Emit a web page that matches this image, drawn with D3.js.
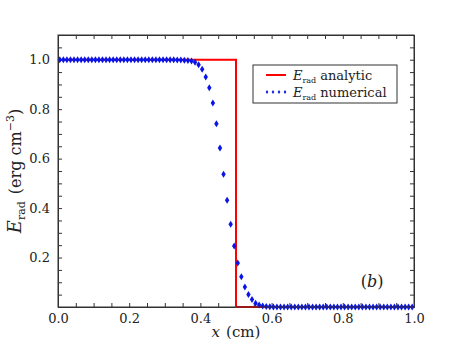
<!DOCTYPE html>
<html>
<head>
<meta charset="utf-8">
<script src="https://cdn.jsdelivr.net/npm/d3@7"></script>
<style>
  body { margin: 0; background: #fff; }
  text { font-family: "DejaVu Serif", "Liberation Serif", serif; fill: #222; }
</style>
</head>
<body>
<div id="canvas"></div>
<script>
// Radiation energy density vs x, analytic step and numerical profile

const width = 460, height = 345;
const margin = { left: 58, right: 46, top: 35, bottom: 38 };

// analytic step (x in cm, E_rad)
const analyticX = [0.0, 0.5, 0.5, 1.0];
const analyticE = [1.0, 1.0, 0.0, 0.0];

// numerical: one value per cell, cell centers 0.005 ... 0.995
const cellX = d3.range(100).map(i => (i + 0.5) / 100);
const numericalE = [
  1.0, 1.0, 1.0, 1.0, 1.0, 1.0, 1.0, 1.0, 1.0, 1.0,
  1.0, 1.0, 1.0, 1.0, 1.0, 1.0, 1.0, 1.0, 1.0, 1.0,
  1.0, 1.0, 1.0, 1.0, 1.0, 1.0, 1.0, 1.0, 1.0, 1.0,
  1.0, 1.0, 1.0, 0.999, 0.999, 0.998, 0.997, 0.995, 0.99, 0.98,
  0.961, 0.93, 0.887, 0.825, 0.741, 0.643, 0.537, 0.432, 0.335, 0.247,
  0.178, 0.122, 0.081, 0.051, 0.030, 0.015, 0.008, 0.004, 0.002, 0.001,
  0.0, 0.0, 0.0, 0.0, 0.0, 0.0, 0.0, 0.0, 0.0, 0.0,
  0.0, 0.0, 0.0, 0.0, 0.0, 0.0, 0.0, 0.0, 0.0, 0.0,
  0.0, 0.0, 0.0, 0.0, 0.0, 0.0, 0.0, 0.0, 0.0, 0.0,
  0.0, 0.0, 0.0, 0.0, 0.0, 0.0, 0.0, 0.0, 0.0, 0.0
];

const xLabels = [0.0, 0.2, 0.4, 0.6, 0.8, 1.0];
const yLabels = [0.2, 0.4, 0.6, 0.8, 1.0];
const minorStep = 0.05;

const svg = d3.select("#canvas").append("svg")
  .attr("width", width).attr("height", height);

const x = d3.scaleLinear().domain([0, 1]).range([margin.left, width - margin.right]);
const y = d3.scaleLinear().domain([0, 1.1]).range([height - margin.bottom, margin.top]);

const xTicks = d3.range(0, 1.0001, minorStep);
const yTicks = d3.range(0, 1.1001, minorStep);
const tickLen = 4;

function fmt(d) { return d3.format(".1f")(d); }
function isLabel(list, d) { return list.some(v => Math.abs(v - d) < 1e-6); }

// bottom axis (ticks inward)
svg.append("g")
  .attr("transform", `translate(0,${y(0)})`)
  .call(d3.axisBottom(x).tickValues(xTicks).tickSize(-tickLen).tickPadding(7)
    .tickFormat(d => isLabel(xLabels, d) ? fmt(d) : ""));
// top axis
svg.append("g")
  .attr("transform", `translate(0,${y(1.1)})`)
  .call(d3.axisTop(x).tickValues(xTicks).tickSize(-tickLen).tickFormat(""));
// left axis
svg.append("g")
  .attr("transform", `translate(${x(0)},0)`)
  .call(d3.axisLeft(y).tickValues(yTicks).tickSize(-tickLen).tickPadding(8)
    .tickFormat(d => isLabel(yLabels, d) ? fmt(d) : ""));
// right axis
svg.append("g")
  .attr("transform", `translate(${x(1)},0)`)
  .call(d3.axisRight(y).tickValues(yTicks).tickSize(-tickLen).tickFormat(""));

svg.selectAll(".domain").attr("stroke", "#333");
svg.selectAll(".tick line").attr("stroke", "#333");
svg.selectAll(".tick text")
  .style("font-family", '"DejaVu Serif", serif')
  .style("font-size", "13px").attr("fill", "#222");

// analytic line
const line = d3.line().x(d => x(d[0])).y(d => y(d[1]));
svg.append("path")
  .datum(analyticX.map((v, i) => [v, analyticE[i]]))
  .attr("d", line)
  .attr("fill", "none")
  .attr("stroke", "#ff0000")
  .attr("stroke-width", 2);

// numerical markers (small blue diamonds)
const diamond = "M0,-3.5L2.2,0L0,3.5L-2.2,0Z";
svg.append("g").selectAll("path")
  .data(cellX.map((v, i) => [v, numericalE[i]]))
  .join("path")
  .attr("transform", d => `translate(${x(d[0])},${y(d[1])})`)
  .attr("d", diamond)
  .attr("fill", "#0a14e6");

// frame
svg.append("rect")
  .attr("x", x(0)).attr("y", y(1.1))
  .attr("width", x(1) - x(0)).attr("height", y(0) - y(1.1))
  .attr("fill", "none").attr("stroke", "#333");

// legend
const lg = svg.append("g").attr("transform", "translate(253,65)");
lg.append("rect").attr("width", 144).attr("height", 38)
  .attr("fill", "#fff").attr("stroke", "#333");
lg.append("line").attr("x1", 13).attr("x2", 33).attr("y1", 10).attr("y2", 10)
  .attr("stroke", "#ff0000").attr("stroke-width", 2);
[14, 20, 26, 32].forEach(dx => {
  lg.append("path").attr("transform", `translate(${dx},27)`)
    .attr("d", "M0,-2L1.3,0L0,2L-1.3,0Z").attr("fill", "#0a14e6");
});
const legendRows = ["analytic", "numerical"];
legendRows.forEach((name, i) => {
  const t = lg.append("text").attr("x", 40).attr("y", 15 + i * 17)
    .style("font-size", "13px");
  t.append("tspan").attr("font-style", "italic").text("E");
  t.append("tspan").attr("dy", 3).style("font-size", "8px").text("rad");
  t.append("tspan").attr("dy", -3).attr("dx", 4).text(name);
});

// panel tag
const tag = svg.append("text").attr("x", 372).attr("y", 287)
  .attr("text-anchor", "middle").style("font-size", "16px");
tag.append("tspan").text("(");
tag.append("tspan").attr("font-style", "italic").text("b");
tag.append("tspan").text(")");

// x label
const xl = svg.append("text").attr("x", x(0.5)).attr("y", 337)
  .attr("text-anchor", "middle").style("font-size", "15px");
xl.append("tspan").attr("font-style", "italic").text("x");
xl.append("tspan").attr("dx", 6).text("(cm)");

// y label
const yl = svg.append("text")
  .attr("transform", `translate(21,${(y(0) + y(1.1)) / 2}) rotate(-90)`)
  .attr("text-anchor", "middle").style("font-size", "16px");
yl.append("tspan").attr("font-style", "italic").style("font-size", "18px").text("E");
yl.append("tspan").attr("dy", 4).style("font-size", "11px").text("rad");
yl.append("tspan").attr("dy", -4).attr("dx", 7).text("(erg cm");
yl.append("tspan").attr("dy", -7).style("font-size", "11px").text("\u22123");
yl.append("tspan").attr("dy", 7).text(")");
</script>
</body>
</html>
